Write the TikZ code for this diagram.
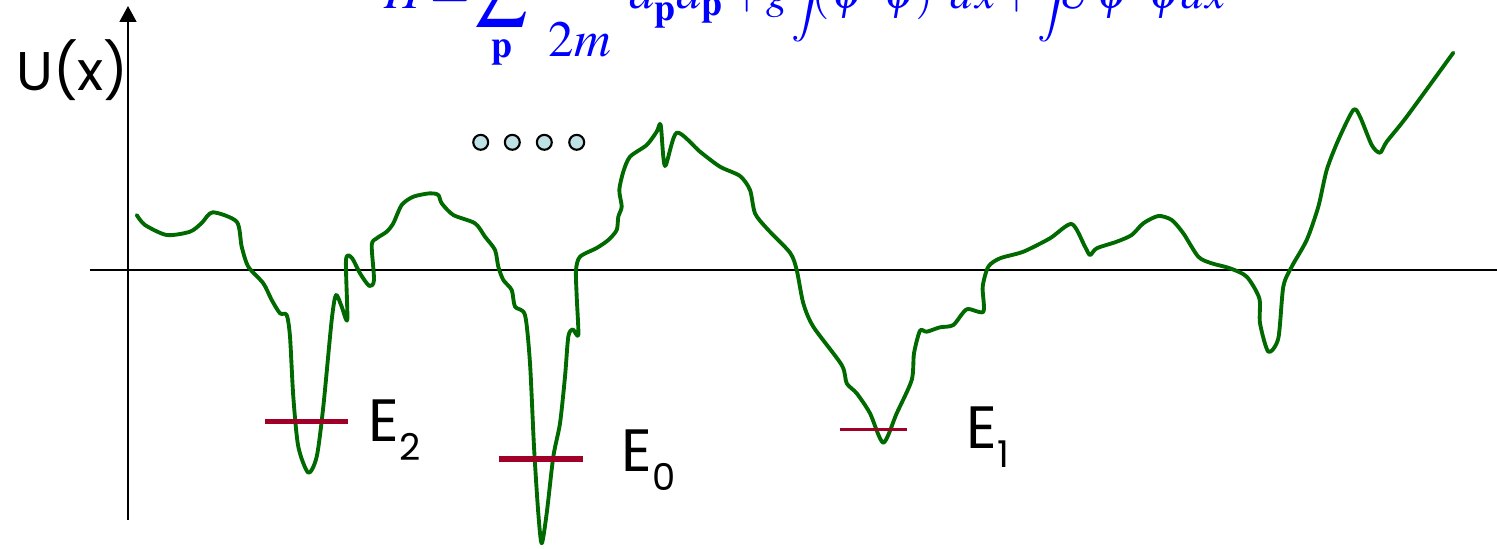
\documentclass[tikz,border=0pt]{standalone}
\usepackage{mathptmx}
\usepackage{fontspec}
\newfontfamily\comic{Poppins}
\usetikzlibrary{arrows.meta}
\definecolor{curvegreen}{RGB}{0,105,0}
\definecolor{levelred}{RGB}{160,0,40}
\definecolor{dotblue}{RGB}{190,225,228}
\tikzset{
  axisline/.style={line width=1.1pt, black},
  potential/.style={line width=2.2pt, curvegreen, line join=round, line cap=round},
  levelbar/.style={line width=3.1pt, levelred},
  thinbar/.style={line width=2pt, levelred},
  lbl/.style={font=\comic\fontsize{34}{40}\selectfont, anchor=base west, inner sep=0pt},
  ulbl/.style={font=\comic\fontsize{31}{36}\selectfont, anchor=base west, inner sep=0pt},
  dotc/.style={circle, draw=black, fill=dotblue, line width=1.2pt, minimum size=8.5pt, inner sep=0pt},
}
\newcommand{\subl}[1]{\raisebox{-0.32em}{\fontsize{21}{21}\selectfont #1}}
\begin{document}
\begin{tikzpicture}[x=0.02cm,y=-0.02cm]
\useasboundingbox (0,0) rectangle (1497,548);
% axes
\coordinate (ybot) at (128,520);
\coordinate (ytop) at (128,6);
\coordinate (xl) at (90,270);
\coordinate (xr) at (1514,270);
\draw[axisline, -{Triangle[length=16pt*0.567,width=17pt*0.567]}] (ybot) -- (ytop);
\draw[axisline, -{Triangle[length=16pt*0.567,width=17pt*0.567]}] (xl) -- (xr);
% formula
\node[anchor=base west, inner sep=0pt, text=blue, font=\fontsize{29}{33}\selectfont] (ham) at (384,8)
 {\thickmuskip=2mu \medmuskip=1.5mu \thinmuskip=1mu
  $\displaystyle H=\sum_{\mathbf p}\frac{\hbar^2p^2}{\rule{0pt}{1.07em}2m}a^\dagger_{\mathbf p}a_{\mathbf p}\mkern2mu$%
  \fontsize{25.5}{30}\selectfont\thickmuskip=2mu \medmuskip=1.5mu \thinmuskip=1mu
  $\displaystyle+\,g\int\mkern-8mu(\psi^\dagger\psi)^2dx+\int\mkern-8mu U\psi^\dagger\psi dx$};
% label U(x)
\node[ulbl] (ulab) at (16,90) {U(x)};
% dots
\node[dotc] (d1) at (480.7,142.3) {};
\node[dotc] (d2) at (512.3,142.3) {};
\node[dotc] (d3) at (544.3,142.3) {};
\node[dotc] (d4) at (576.7,142.3) {};
% potential curve
\draw[potential] plot[smooth, tension=0.45] coordinates {
(136.7,215) (145,225) (166.7,235) (190,231.7) (201.7,223) (212.7,212.3) (236.7,221.7) (241.7,246.7) (248.3,266.7) (263.3,283.3) (271.7,300) (280,313.3) (286.7,315) (290,336.7) (293.3,396.7) (298.3,446.7) (308.3,472.7) (316.7,456.7) (323.3,406.7) (331.7,320) (336,295) (341.7,306.7) (347.3,319.3) (346,260) (351.7,257.7) (360,273.3) (369.3,286) (374,280) (371.7,245) (376.7,238.3) (386.7,231.7) (393.3,223.3) (401.7,205) (413.3,196.7) (430,193.3) (438.3,195) (441.7,203.3) (453.3,215) (475,223.3) (485,236.7) (495,250) (498.3,266.7) (503.3,280) (511.7,290) (515,306.7) (525,315) (530,363.3) (534,446.7) (538.3,513.3) (541.7,543.3) (546.7,513.3) (553.3,456.7) (560,423.3) (565,376.7) (568.3,336.7) (572.7,329.3) (578.3,335) (576.7,296.7) (576,270) (580,256.7) (596.7,248) (608.3,240) (616.7,230) (618.3,216.7) (621.7,206.7) (619.3,190) (623.3,171.7) (630,156.7) (646.7,145) (656.7,131.7) (660.7,125) (665,166) (676.7,132.7) (700,151.7) (720,166.7) (740,176) (750,190) (755,213.3) (766.7,228.3) (790,252.7) (796.7,270) (803.3,303.3) (813.3,326.7) (841.7,365) (846.7,383.3) (856.7,393.3) (870,413.3) (883.3,442.7) (896.7,413.3) (911.7,380) (914,353.3) (920,330.7) (926.7,331.7) (940,327.3) (953.3,325) (966.7,309.3) (983.3,311.7) (982.7,286.7) (988.3,266.7) (1000,258.3) (1023.3,251.7) (1050,238.3) (1071.7,224) (1085,246.7) (1090,255) (1096.7,248.3) (1116.7,241.7) (1131.7,235) (1143.3,223.3) (1158.3,216) (1171.7,220) (1183.3,233.3) (1198.3,256.7) (1211.7,263.3) (1230,268.3) (1246.7,276.7) (1259.3,298.3) (1260,323.3) (1268.3,351.7) (1278.3,338.3) (1283.3,286.7) (1291.7,266.7) (1306.7,240) (1318.3,206.7) (1326.7,170) (1338.3,140) (1353.3,110) (1360,116.7) (1371.7,145) (1380,152.7) (1386.7,141.7) (1406.7,116.7) (1453.3,52.7)
};
% energy levels
\coordinate (e2a) at (265,421.5);
\coordinate (e2b) at (348,421.5);
\coordinate (e0a) at (499,459);
\coordinate (e0b) at (583,459);
\coordinate (e1a) at (840,429.3);
\coordinate (e1b) at (907,429.3);
\draw[levelbar] (e2a) -- (e2b);
\draw[levelbar] (e0a) -- (e0b);
\draw[thinbar] (e1a) -- (e1b);
\node[lbl] (le2) at (368,441) {E\subl{2}};
\node[lbl] (le0) at (621,471) {E\subl{0}};
\node[lbl] (le1) at (966,448) {E\subl{1}};
\end{tikzpicture}
\end{document}
